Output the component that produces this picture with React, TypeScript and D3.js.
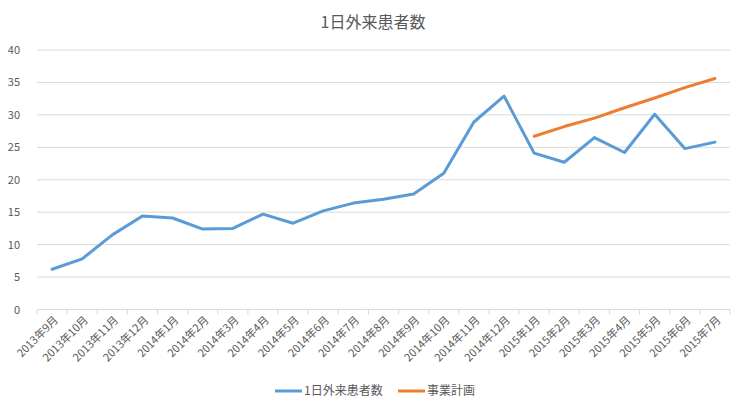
import React from "react";
import * as d3 from "d3";

const categories = [
  "2013年9月","2013年10月","2013年11月","2013年12月",
  "2014年1月","2014年2月","2014年3月","2014年4月","2014年5月","2014年6月",
  "2014年7月","2014年8月","2014年9月","2014年10月","2014年11月","2014年12月",
  "2015年1月","2015年2月","2015年3月","2015年4月","2015年5月","2015年6月","2015年7月",
];
const outpatients: (number | null)[] = [
  6.2, 7.8, 11.5, 14.4, 14.1, 12.4, 12.5, 14.7, 13.3, 15.2, 16.4, 17.0, 17.8, 21.0,
  28.9, 32.9, 24.1, 22.7, 26.5, 24.2, 30.1, 24.8, 25.8,
];
const plan: (number | null)[] = [
  null, null, null, null, null, null, null, null, null, null, null, null, null, null,
  null, null, 26.7, 28.2, 29.5, 31.1, 32.6, 34.2, 35.6,
];
const yTicks = [0, 5, 10, 15, 20, 25, 30, 35, 40];
const seriesNames = ["1日外来患者数", "事業計画"];
const title = "1日外来患者数";

const W = 745, H = 411;
const font = "'Noto Sans CJK JP', 'Noto Sans', sans-serif";

export default function App() {
  const x = d3.scaleBand<string>().domain(categories).range([37, 730]).padding(0);
  const y = d3.scaleLinear().domain([0, 40]).range([309.5, 50]);
  const line = d3.line<number | null>()
    .defined((d) => d !== null)
    .x((_, i) => (x(categories[i]) ?? 0) + x.bandwidth() / 2)
    .y((d) => y(d as number));
  const colors = ["#5B9BD5", "#ED7D31"];
  const tickXs = categories.map((c) => x(c) as number).concat([730]);
  return (
    <svg width={W} height={H} style={{ position: "absolute", left: 0, top: 0 }} fontFamily={font}>
      <rect width={W} height={H} fill="#fff" />
      <text x={373} y={28} textAnchor="middle" fontSize={16} fill="#595959">{title}</text>
      {yTicks.map((t) => (
        <g key={t}>
          <line x1={37} x2={730} y1={y(t)} y2={y(t)} stroke="#D9D9D9" strokeWidth={1} />
          <text x={20} y={y(t) + 4} textAnchor="end" fontSize={11} fill="#595959">{t}</text>
        </g>
      ))}
      {tickXs.map((tx, i) => (
        <line key={i} x1={tx} x2={tx} y1={y(0)} y2={y(0) + 5} stroke="#D9D9D9" />
      ))}
      {categories.map((c) => {
        const cx = (x(c) as number) + x.bandwidth() / 2 + 4;
        const cy = 318;
        return (
          <text key={c} x={cx} y={cy} textAnchor="end" fontSize={11} fill="#595959"
            transform={`rotate(-45 ${cx} ${cy})`} dy="0.35em">{c}</text>
        );
      })}
      <path d={line(outpatients) ?? ""} fill="none" stroke={colors[0]} strokeWidth={3} strokeLinejoin="round" strokeLinecap="round" />
      <path d={line(plan) ?? ""} fill="none" stroke={colors[1]} strokeWidth={3} strokeLinejoin="round" strokeLinecap="round" />
      <g>
        <line x1={275} x2={302} y1={391} y2={391} stroke={colors[0]} strokeWidth={3} />
        <text x={304} y={395} fontSize={12} fill="#595959">{seriesNames[0]}</text>
        <line x1={398} x2={425} y1={391} y2={391} stroke={colors[1]} strokeWidth={3} />
        <text x={427} y={395} fontSize={12} fill="#595959">{seriesNames[1]}</text>
      </g>
    </svg>
  );
}
